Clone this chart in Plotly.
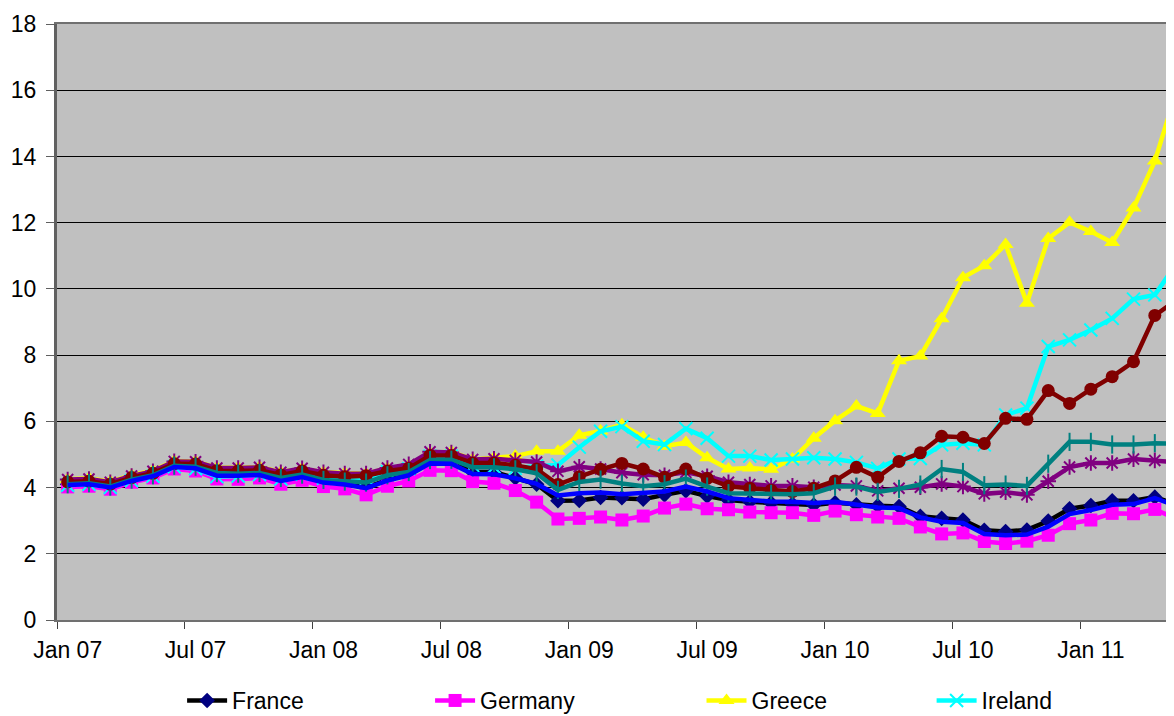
import plotly.graph_objects as go

# ---- data (10-year government bond yields, %, monthly) ----
months = [f"{m} {y:02d}" for y in range(7, 12) for m in
          ["Jan", "Feb", "Mar", "Apr", "May", "Jun", "Jul", "Aug", "Sep", "Oct", "Nov", "Dec"]][:53]

france = [4.10, 4.12, 4.03, 4.23, 4.36, 4.65, 4.61, 4.39, 4.37, 4.40, 4.23, 4.37,
          4.18, 4.12, 4.00, 4.23, 4.39, 4.76, 4.76, 4.47, 4.47, 4.29, 4.10, 3.60,
          3.61, 3.70, 3.69, 3.65, 3.78, 3.90, 3.74, 3.62, 3.57, 3.53, 3.50, 3.47,
          3.54, 3.48, 3.45, 3.43, 3.13, 3.07, 3.02, 2.71, 2.67, 2.72, 2.99, 3.36,
          3.46, 3.60, 3.60, 3.71, 3.49]
germany = [4.02, 4.04, 3.95, 4.16, 4.29, 4.56, 4.50, 4.26, 4.25, 4.29, 4.10, 4.22,
           4.03, 3.96, 3.78, 4.04, 4.20, 4.52, 4.51, 4.18, 4.13, 3.91, 3.56, 3.05,
           3.07, 3.11, 3.02, 3.14, 3.38, 3.50, 3.36, 3.33, 3.26, 3.24, 3.24, 3.16,
           3.29, 3.18, 3.11, 3.07, 2.81, 2.60, 2.63, 2.37, 2.31, 2.38, 2.56, 2.91,
           3.02, 3.22, 3.21, 3.34, 3.06]
greece = [4.25, 4.28, 4.18, 4.37, 4.51, 4.80, 4.79, 4.60, 4.60, 4.62, 4.47, 4.57,
          4.46, 4.43, 4.42, 4.58, 4.67, 5.05, 5.08, 4.85, 4.89, 4.95, 5.10, 5.10,
          5.58, 5.71, 5.90, 5.52, 5.25, 5.36, 4.90, 4.56, 4.59, 4.55, 4.86, 5.49,
          6.02, 6.46, 6.24, 7.83, 7.97, 9.10, 10.34, 10.70, 11.34, 9.57, 11.52, 12.01,
          11.73, 11.40, 12.44, 13.86, 15.94]
ireland = [4.07, 4.10, 4.00, 4.21, 4.34, 4.63, 4.57, 4.33, 4.35, 4.39, 4.26, 4.40,
           4.28, 4.27, 4.28, 4.48, 4.57, 4.95, 4.95, 4.67, 4.62, 4.58, 4.65, 4.68,
           5.22, 5.70, 5.84, 5.40, 5.30, 5.78, 5.49, 4.95, 4.95, 4.83, 4.86, 4.90,
           4.86, 4.76, 4.58, 4.86, 4.88, 5.29, 5.34, 5.29, 6.19, 6.40, 8.26, 8.46,
           8.76, 9.11, 9.69, 9.82, 10.75]
italy = [4.24, 4.26, 4.16, 4.35, 4.49, 4.79, 4.78, 4.59, 4.59, 4.61, 4.46, 4.58,
         4.46, 4.42, 4.42, 4.59, 4.70, 5.08, 5.06, 4.85, 4.87, 4.82, 4.77, 4.49,
         4.63, 4.56, 4.45, 4.39, 4.37, 4.46, 4.34, 4.16, 4.09, 4.05, 4.05, 4.01,
         4.08, 4.05, 3.90, 3.98, 4.01, 4.11, 4.03, 3.81, 3.86, 3.78, 4.19, 4.62,
         4.74, 4.74, 4.86, 4.82, 4.76]
portugal = [4.17, 4.19, 4.10, 4.30, 4.43, 4.72, 4.71, 4.51, 4.50, 4.52, 4.38, 4.50,
            4.37, 4.33, 4.36, 4.50, 4.58, 4.97, 4.97, 4.74, 4.74, 4.67, 4.56, 4.09,
            4.33, 4.55, 4.73, 4.56, 4.31, 4.56, 4.28, 4.04, 3.98, 3.92, 3.88, 3.98,
            4.20, 4.61, 4.31, 4.79, 5.05, 5.55, 5.52, 5.33, 6.09, 6.06, 6.93, 6.54,
            6.97, 7.35, 7.80, 9.20, 9.65]
spain = [4.10, 4.13, 4.03, 4.24, 4.37, 4.66, 4.63, 4.44, 4.42, 4.44, 4.29, 4.39,
         4.23, 4.18, 4.15, 4.37, 4.47, 4.83, 4.84, 4.61, 4.61, 4.55, 4.43, 3.93,
         4.17, 4.24, 4.12, 4.04, 4.10, 4.27, 4.03, 3.83, 3.82, 3.81, 3.80, 3.83,
         4.03, 4.03, 3.87, 3.96, 4.09, 4.56, 4.47, 4.07, 4.09, 4.05, 4.72, 5.38,
         5.38, 5.30, 5.30, 5.34, 5.32]
netherlands = [4.08, 4.10, 4.00, 4.20, 4.34, 4.62, 4.58, 4.36, 4.36, 4.38, 4.20, 4.32,
               4.15, 4.09, 3.98, 4.21, 4.37, 4.73, 4.72, 4.41, 4.40, 4.28, 4.11, 3.76,
               3.83, 3.85, 3.80, 3.83, 3.88, 4.03, 3.88, 3.68, 3.62, 3.58, 3.57, 3.53,
               3.57, 3.48, 3.40, 3.38, 3.10, 2.97, 2.93, 2.60, 2.56, 2.58, 2.82, 3.20,
               3.32, 3.48, 3.50, 3.68, 3.45]

series_names = ["France", "Germany", "Greece", "Ireland", "Italy", "Portugal", "Spain", "Netherlands"]
series_values = [france, germany, greece, ireland, italy, portugal, spain, netherlands]

tick_labels = ["Jan 07", "Jul 07", "Jan 08", "Jul 08", "Jan 09", "Jul 09", "Jan 10", "Jul 10", "Jan 11"]

# ---- styles ----
styles = {
    "France":      dict(line="#000000", sym="diamond", mcol="#000080", size=12, mlw=0),
    "Germany":     dict(line="#FF00FF", sym="square", mcol="#FF00FF", size=13, mlw=0),
    "Greece":      dict(line="#FFFF00", sym="triangle-up", mcol="#FFFF00", size=14, mlw=0),
    "Ireland":     dict(line="#00FFFF", sym="x-thin", mcol="#00FFFF", size=13, mlw=2),
    "Italy":       dict(line="#800080", sym="asterisk", mcol="#800080", size=13, mlw=2),
    "Portugal":    dict(line="#800000", sym="circle", mcol="#800000", size=13, mlw=0),
    "Spain":       dict(line="#008080", sym="line-ns", mcol="#008080", size=13, mlw=2),
    "Netherlands": dict(line="#0000FF", sym=None, mcol="#0000FF", size=0, mlw=0),
}
# legend entries visible in the picture and the x position (paper) of each
legend_shown = ["France", "Germany", "Greece", "Ireland"]
legend_x = [0.112, 0.334, 0.577, 0.783]

x_idx = list(range(len(months)))
fig = go.Figure()
for name, vals in zip(series_names, series_values):
    s = styles[name]
    mode = "lines+markers" if s["sym"] else "lines"
    marker = dict(symbol=s["sym"], color=s["mcol"], size=s["size"],
                  line=dict(width=s["mlw"], color=s["mcol"])) if s["sym"] else None
    shown = name in legend_shown
    lg = "legend" if not shown or legend_shown.index(name) == 0 else f"legend{legend_shown.index(name) + 1}"
    fig.add_trace(go.Scatter(
        x=x_idx[:len(vals)], y=vals, name=name, mode=mode,
        line=dict(color=s["line"], width=4.5),
        marker=marker,
        showlegend=shown,
        legend=lg,
        hovertext=months[:len(vals)],
    ))

tick_idx = [months.index(t) for t in tick_labels]
boundary_ticks = [i - 0.5 for i in tick_idx]

font_family = "Arial, 'Liberation Sans', sans-serif"
legend_common = dict(orientation="h", xanchor="left", y=-0.099, yanchor="top",
                     font=dict(size=23, family=font_family), bgcolor="rgba(0,0,0,0)",
                     itemwidth=40)
# the page body adds an 8px margin, so the figure margins are shifted by 8px
fig.update_layout(
    width=1174, height=708,
    margin=dict(l=49, r=8, t=16, b=96, autoexpand=False),
    paper_bgcolor="white",
    plot_bgcolor="#C0C0C0",
    font=dict(family=font_family, size=23, color="black"),
    xaxis=dict(
        range=[-0.5, 51.9], automargin=False,
        tickvals=tick_idx, ticktext=tick_labels,
        ticks="", showgrid=False, zeroline=False,
        showline=True, linecolor="#707070", linewidth=2, mirror=True,
        ticklabelstandoff=8,
        tickfont=dict(size=23),
        minor=dict(tickvals=boundary_ticks, ticks="outside", ticklen=7,
                   tickcolor="#404040", tickwidth=1, showgrid=False),
    ),
    yaxis=dict(
        range=[0, 18], dtick=2, automargin=False,
        showgrid=True, gridcolor="black", gridwidth=1,
        zeroline=False,
        showline=True, linecolor="#606060", linewidth=3,
        ticks="outside", ticklen=8, tickcolor="#606060", tickwidth=1,
        ticklabelstandoff=5,
        tickfont=dict(size=23),
    ),
    legend=dict(x=legend_x[0], **legend_common),
    legend2=dict(x=legend_x[1], **legend_common),
    legend3=dict(x=legend_x[2], **legend_common),
    legend4=dict(x=legend_x[3], **legend_common),
    showlegend=True,
)

fig.write_html("out.html")
